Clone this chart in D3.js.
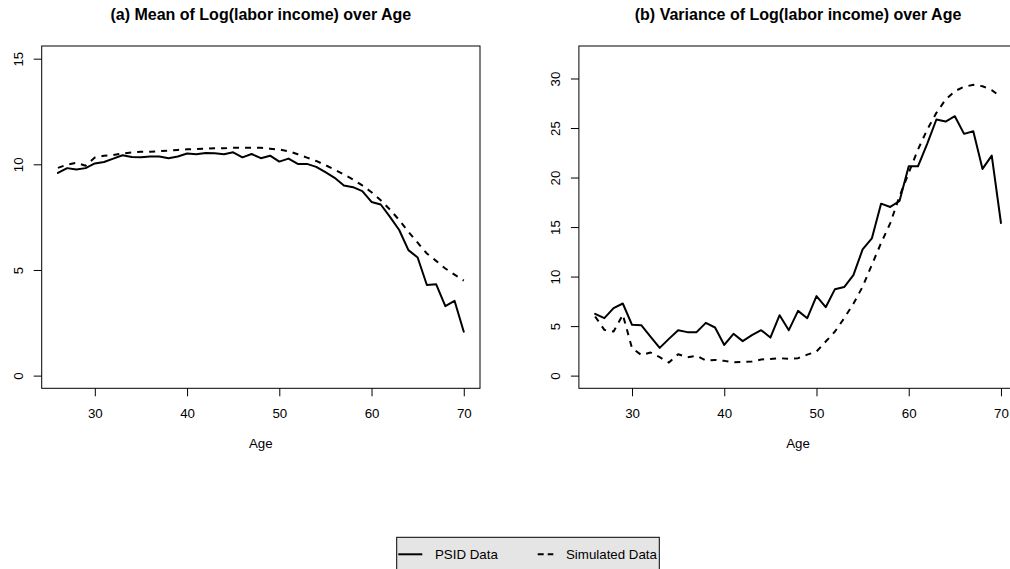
<!DOCTYPE html>
<html>
<head>
<meta charset="utf-8">
<script src="https://cdn.jsdelivr.net/npm/d3@7"></script>
<style>
  html, body { margin: 0; padding: 0; background: #fff; overflow: hidden; }
  svg { display: block; font-family: "Liberation Sans", Arial, Helvetica, sans-serif; }
</style>
</head>
<body>
<svg id="chart" width="1010" height="569"></svg>
<script>
// Ages covered by both panels
const ages = d3.range(26, 71);

// Panel (a): mean of log labor income by age
const meanPSID = [9.59, 9.82, 9.75, 9.82, 10.04, 10.11, 10.27, 10.43, 10.35, 10.33,
  10.37, 10.37, 10.29, 10.37, 10.51, 10.48, 10.54, 10.52, 10.48, 10.57,
  10.33, 10.49, 10.29, 10.41, 10.13, 10.27, 10.02, 10.02, 9.88, 9.63,
  9.36, 9.00, 8.92, 8.73, 8.22, 8.10, 7.51, 6.89, 5.94, 5.59,
  4.29, 4.33, 3.29, 3.54, 2.08];
const meanSim = [9.83, 9.99, 10.07, 9.93, 10.32, 10.41, 10.44, 10.51, 10.56, 10.59,
  10.60, 10.62, 10.65, 10.68, 10.71, 10.73, 10.74, 10.76, 10.76, 10.78,
  10.78, 10.79, 10.78, 10.74, 10.70, 10.62, 10.48, 10.32, 10.16, 9.96,
  9.75, 9.52, 9.28, 9.00, 8.68, 8.30, 7.86, 7.36, 6.81, 6.29,
  5.78, 5.43, 5.07, 4.78, 4.50];

// Panel (b): variance of log labor income by age
const varPSID = [6.24, 5.80, 6.81, 7.28, 5.13, 5.09, 3.94, 2.80, 3.71, 4.59,
  4.39, 4.39, 5.33, 4.86, 3.10, 4.22, 3.48, 4.08, 4.59, 3.84,
  6.10, 4.59, 6.54, 5.80, 8.03, 6.91, 8.73, 8.94, 10.15, 12.74,
  13.85, 17.36, 17.03, 17.63, 21.13, 21.13, 23.40, 25.86, 25.65, 26.19,
  24.41, 24.67, 20.87, 22.21, 15.41];
const varSim = [5.97, 4.62, 4.45, 6.15, 2.77, 2.09, 2.33, 1.86, 1.32, 2.16,
  1.86, 2.00, 1.52, 1.58, 1.49, 1.35, 1.39, 1.42, 1.62, 1.69,
  1.76, 1.69, 1.76, 2.12, 2.43, 3.44, 4.45, 5.80, 7.25, 8.98,
  11.19, 13.38, 15.40, 18.10, 20.47, 22.82, 24.84, 26.53, 27.88, 28.72,
  29.16, 29.36, 29.22, 28.82, 28.15];

// Axis ticks and labels
const ageTicks = [30, 40, 50, 60, 70];
const meanTicks = [0, 5, 10, 15];
const varTicks = [0, 5, 10, 15, 20, 25, 30];
const titles = ["(a) Mean of Log(labor income) over Age",
                "(b) Variance of Log(labor income) over Age"];
const xLabel = "Age";
const seriesNames = ["PSID Data", "Simulated Data"];

const svg = d3.select("#chart");
const FONT = 13.3;
const DASH = "6,6";

// Panel geometry (plot regions)
const plotTop = 46, plotBottom = 388.3;
const panels = [
  { left: 41.7, right: 480.0, yDomain: [-0.6, 15.6], ticks: meanTicks,
    title: titles[0], psid: meanPSID, sim: meanSim },
  { left: 578.9, right: 1017.2, yDomain: [-1.28, 33.28], ticks: varTicks,
    title: titles[1], psid: varPSID, sim: varSim }
];

panels.forEach(p => {
  // R-style 4% padding around the age range
  const span = 70 - 26;
  const x = d3.scaleLinear().domain([26 - 0.04 * span, 70 + 0.04 * span]).range([p.left, p.right]);
  const y = d3.scaleLinear().domain(p.yDomain).range([plotBottom, plotTop]);
  const g = svg.append("g");

  // title
  g.append("text")
    .attr("x", (p.left + p.right) / 2).attr("y", 20)
    .attr("text-anchor", "middle")
    .attr("font-weight", "bold").attr("font-size", 16)
    .text(p.title);

  // x axis
  const xa = g.append("g").attr("transform", `translate(0,${plotBottom})`)
    .call(d3.axisBottom(x).tickValues(ageTicks).tickSize(8).tickPadding(12).tickFormat(d3.format("d")));
  xa.select(".domain").remove();
  xa.selectAll("text").attr("font-size", FONT).attr("fill", "#000");
  xa.selectAll("line").attr("stroke", "#000");
  xa.attr("font-family", null).attr("font-size", null);

  // y axis with labels turned parallel to the axis
  const ya = g.append("g").attr("transform", `translate(${p.left},0)`)
    .call(d3.axisLeft(y).tickValues(p.ticks).tickSize(8).tickFormat(d3.format("d")));
  ya.select(".domain").remove();
  ya.attr("font-family", null).attr("font-size", null);
  ya.selectAll("line").attr("stroke", "#000");
  ya.selectAll("text")
    .attr("font-size", FONT).attr("fill", "#000")
    .attr("transform", "rotate(-90)")
    .attr("x", 0).attr("y", -19).attr("dy", null)
    .attr("text-anchor", "middle");

  // axis title
  g.append("text")
    .attr("x", (p.left + p.right) / 2).attr("y", 448)
    .attr("text-anchor", "middle").attr("font-size", FONT)
    .text(xLabel);

  // series
  const line = d3.line().x((d, i) => x(ages[i])).y(d => y(d));
  g.append("path").datum(p.psid).attr("d", line)
    .attr("fill", "none").attr("stroke", "#000").attr("stroke-width", 2)
    .attr("stroke-linejoin", "round").attr("stroke-linecap", "round");
  g.append("path").datum(p.sim).attr("d", line)
    .attr("fill", "none").attr("stroke", "#000").attr("stroke-width", 2)
    .attr("stroke-dasharray", DASH)
    .attr("stroke-linejoin", "round").attr("stroke-linecap", "butt");

  // plot box
  g.append("rect")
    .attr("x", p.left).attr("y", plotTop)
    .attr("width", p.right - p.left).attr("height", plotBottom - plotTop)
    .attr("fill", "none").attr("stroke", "#000").attr("stroke-width", 1);
});

// legend along the bottom
const lg = svg.append("g");
lg.append("rect").attr("x", 396.7).attr("y", 537.3).attr("width", 262.6).attr("height", 40)
  .attr("fill", "#e5e5e5").attr("stroke", "#000").attr("stroke-width", 1);
const legendItems = [
  { name: seriesNames[0], x0: 398.3, x1: 422.3, tx: 435, dash: null },
  { name: seriesNames[1], x0: 537.7, x1: 553.3, tx: 566, dash: "6,4" }
];
legendItems.forEach(it => {
  lg.append("line").attr("x1", it.x0).attr("x2", it.x1).attr("y1", 554.3).attr("y2", 554.3)
    .attr("stroke", "#000").attr("stroke-width", 2)
    .attr("stroke-dasharray", it.dash);
  lg.append("text").attr("x", it.tx).attr("y", 558.5).attr("font-size", FONT).text(it.name);
});
</script>
</body>
</html>
